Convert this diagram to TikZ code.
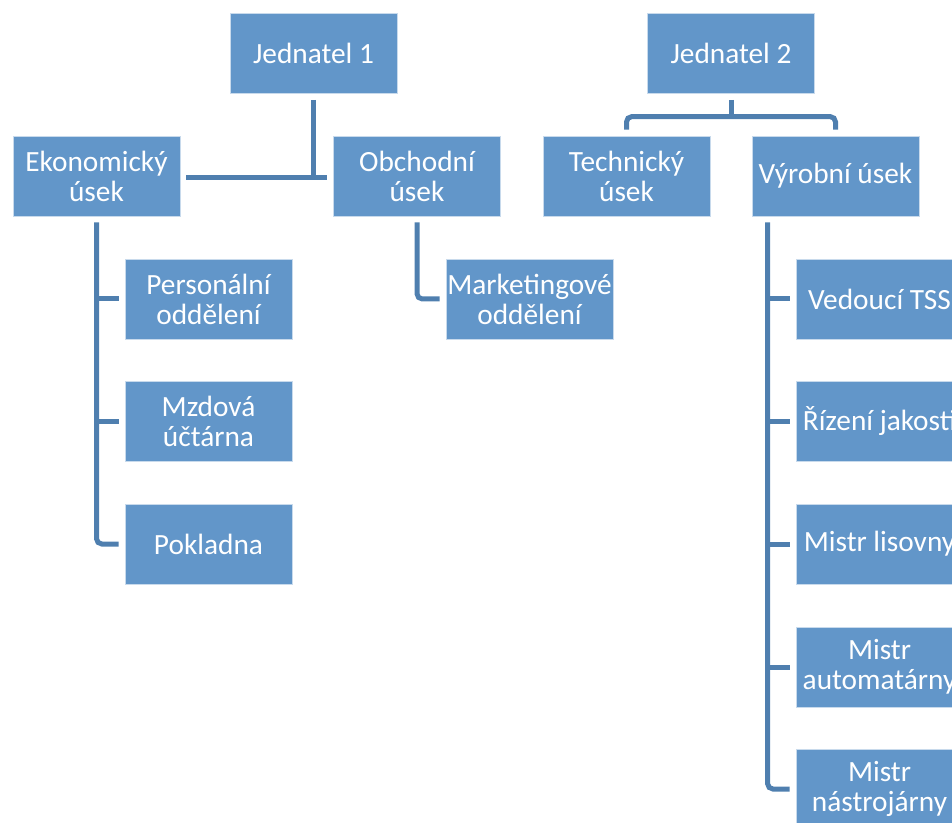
\documentclass[tikz,border=0pt]{standalone}
\usepackage{fontspec}
\setmainfont{Carlito}
\usetikzlibrary{calc}
\definecolor{boxblue}{RGB}{98,150,201}
\definecolor{linkblue}{RGB}{79,127,175}
\tikzset{
    unit/.style={draw=white!65!boxblue, line width=0.6pt, fill=boxblue, text=white,
        minimum width=125.25pt, minimum height=60pt, inner sep=1pt, align=center,
        font=\fontsize{22}{22.5}\selectfont},
    link/.style={draw=linkblue, line width=3.75pt},
}

\begin{document}
\begin{tikzpicture}[x=0.75pt, y=-0.75pt]
    \useasboundingbox (0,0) rectangle (952,823);
    \clip (0,0) rectangle (952,823);

    % top level
    \node[unit] (J1) at (313.5,53.5) {Jednatel 1};
    \node[unit] (J2) at (731,53.5) {Jednatel 2};

    % departments
    \node[unit] (Eko) at (96.5,176) {Ekonomický\\úsek};
    \node[unit] (Obch) at (417,176) {Obchodní\\úsek};
    \node[unit] (Tech) at (626.5,176) {Technický\\úsek};
    \node[unit] (Vyr) at (835.5,176) {Výrobní úsek};

    % sections
    \node[unit] (Pers) at (208.5,299) {Personální\\oddělení};
    \node[unit] (Mzd) at (208.5,421) {Mzdová\\účtárna};
    \node[unit] (Pok) at (208.5,544) {Pokladna};
    \node[unit] (Mark) at (529.5,299) {Marketingové\\oddělení};
    \node[unit] (Ved) at (879.5,299) {Vedoucí TSS};
    \node[unit] (Riz) at (879.5,421) {Řízení jakosti};
    \node[unit] (Lis) at (879.5,544) {Mistr lisovny};
    \node[unit] (Aut) at (879.5,667) {Mistr\\automatárny};
    \node[unit] (Nas) at (879.5,789) {Mistr\\nástrojárny};

    % Jednatel 1
    \draw[link] ($(Eko.east)+(6,2)$) -- ($(Obch.west)+(-6,2)$);
    \draw[link] ($(J1.south)+(0,6)$) -- ($(J1.south |- Eko.east)+(0,2)$);

    % Jednatel 2
    \draw[link] ($(J2.south)+(0,6)$) -- ++(0,18);
    \draw[link, rounded corners=4] ($(Tech.north)+(0,-6)$) -- ++(0,-13) -| ($(Vyr.north)+(0,-6)$);

    % Ekonomicky usek
    \draw[link, rounded corners=4] ($(Eko.south)+(0,6)$) |- ($(Pok.west)+(-6,0)$);
    \foreach \n in {Pers,Mzd}
        \draw[link] (Eko.south |- \n.west) -- ($(\n.west)+(-6,0)$);

    % Obchodni usek
    \draw[link, rounded corners=4] ($(Obch.south)+(0,6)$) |- ($(Mark.west)+(-6,0)$);

    % Vyrobni usek
    \coordinate (VyrTop) at ($(Vyr.south west)+(16,6)$);
    \draw[link, rounded corners=4] (VyrTop) |- ($(Nas.west)+(-6,0)$);
    \foreach \n in {Ved,Riz,Lis,Aut}
        \draw[link] (VyrTop |- \n.west) -- ($(\n.west)+(-6,0)$);
\end{tikzpicture}
\end{document}
